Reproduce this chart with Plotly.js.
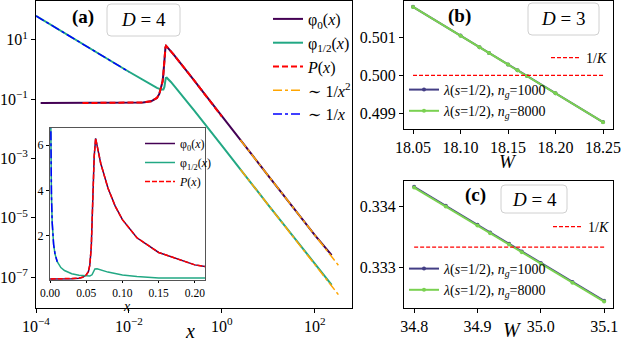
<!DOCTYPE html>
<html>
<head>
<meta charset="utf-8">
<script src="https://cdn.plot.ly/plotly-3.0.1.min.js"></script>
<style>
  html, body { margin: 0; padding: 0; background: #fff; }
  #chart { width: 623px; height: 341px; }
</style>
</head>
<body>
<div id="chart"></div>
<script>
const phi0_x = [1.26e-4, 1e-3, 0.01, 0.02, 0.03, 0.04, 0.045, 0.05, 0.053, 0.055, 0.057, 0.059, 0.061, 0.063,
                0.065, 0.07, 0.08, 0.09, 0.1, 0.12, 0.15, 0.2, 0.25, 0.336, 1, 10, 100, 230];
const phi0_y = [0.074, 0.074, 0.075, 0.078, 0.085, 0.11, 0.15, 0.25, 0.4, 0.7, 1.5, 3.5, 5.5, 6.3,
                6.0, 5.2, 4.1, 3.3, 2.7, 1.9, 1.25, 0.7, 0.44, 0.24, 0.026, 2.6e-4, 2.6e-6, 5.5e-7];

const phi12_x = [1e-4, 2e-4, 5e-4, 1e-3, 2e-3, 3e-3, 5e-3, 7e-3, 0.01, 0.015, 0.02, 0.03, 0.04, 0.05, 0.055,
                 0.058, 0.06, 0.062, 0.065, 0.07, 0.08, 0.1, 0.12, 0.15, 0.2, 0.25, 0.336, 1, 10, 100, 230];
const phi12_y = [64, 33, 14, 7.3, 3.8, 2.6, 1.6, 1.17, 0.84, 0.58, 0.45, 0.31, 0.24, 0.21, 0.21,
                 0.26, 0.4, 0.52, 0.53, 0.48, 0.38, 0.25, 0.18, 0.115, 0.066, 0.043, 0.024, 0.0027, 2.7e-5, 2.7e-7, 5.5e-8];

// P(x) sits on top of phi0 between these limits
const p_min = 1e-3, p_max = 2.5;

// ~1/x guide (left) and the two ~1/x^2 guides (right)
const inv_x = [1e-4, 2e-4, 5e-4, 1e-3, 2e-3, 3e-3, 5e-3, 7e-3, 0.01];
const inv_y = [64, 33, 14, 7.3, 3.8, 2.6, 1.6, 1.17, 0.84];
const inv2_x = [2.5, 340];
const inv2_hi = [0.0042, 2.25e-7];
const inv2_lo = [4.3e-4, 2.3e-8];

const log_tickvals = [1e-4, 1e-2, 1, 100];
const log_ticktext = ["10<sup>−4</sup>", "10<sup>−2</sup>", "10<sup>0</sup>", "10<sup>2</sup>"];
const logy_tickvals = [10, 0.1, 1e-3, 1e-5, 1e-7];
const logy_ticktext = ["10<sup>1</sup>", "10<sup>−1</sup>", "10<sup>−3</sup>", "10<sup>−5</sup>", "10<sup>−7</sup>"];

// ---- panel (b): D = 3 ----
const b_W = [18.05, 18.10, 18.12, 18.13, 18.15, 18.16, 18.17, 18.20, 18.25];
const b_lam1000 = [0.501816, 0.501053, 0.500748, 0.500595, 0.500290, 0.500137, 0.499985, 0.499527, 0.498763];
const b_lam8000 = [0.501812, 0.501049, 0.500744, 0.500591, 0.500286, 0.500133, 0.499981, 0.499523, 0.498759];
const b_invK = 0.5;

// ---- panel (c): D = 4 ----
const c_W = [34.80, 34.85, 34.90, 34.92, 34.95, 34.97, 35.00, 35.05, 35.10];
const c_lam1000 = [0.334330, 0.334016, 0.333702, 0.333576, 0.333388, 0.333262, 0.333073, 0.332759, 0.332446];
const c_lam8000 = [0.334318, 0.334004, 0.333690, 0.333564, 0.333376, 0.333250, 0.333061, 0.332747, 0.332434];
const c_invK = 0.333333;

const W = 623, H = 341;
const px = x => x / W;
const py = y => 1 - y / H;

const SERIF = "'Liberation Serif', 'Times New Roman', 'DejaVu Serif', serif";
const C_PHI0 = "#440154", C_PHI12 = "#22a884";
const C_N1000 = "#433e85", C_N8000 = "#7ad151";

let pick = (xs, ys, lo, hi) => {
    let ox = [], oy = [];
    for (let i = 0; i < xs.length; i++)
        if (xs[i] >= lo && xs[i] <= hi) { ox.push(xs[i]); oy.push(ys[i]); }
    return [ox, oy];
};
let [p_x, p_y] = pick(phi0_x, phi0_y, p_min, p_max);

let traces = [];

// main log-log panel
traces.push({ x: phi0_x, y: phi0_y, name: "φ<sub>0</sub>(<i>x</i>)", mode: "lines",
    line: { color: C_PHI0, width: 2 }, xaxis: "x", yaxis: "y", legend: "legend" });
traces.push({ x: phi12_x, y: phi12_y, name: "φ<sub>1/2</sub>(<i>x</i>)", mode: "lines",
    line: { color: C_PHI12, width: 2 }, xaxis: "x", yaxis: "y", legend: "legend" });
traces.push({ x: p_x, y: p_y, name: "<i>P</i>(<i>x</i>)", mode: "lines",
    line: { color: "#ff0000", width: 2, dash: "6px,3px" }, xaxis: "x", yaxis: "y", legend: "legend" });
traces.push({ x: inv2_x, y: inv2_hi, name: "∼ 1/<i>x</i><sup>2</sup>", mode: "lines",
    line: { color: "#ffa500", width: 1.5, dash: "dashdot" }, xaxis: "x", yaxis: "y", legend: "legend" });
traces.push({ x: inv2_x, y: inv2_lo, showlegend: false, mode: "lines",
    line: { color: "#ffa500", width: 1.5, dash: "dashdot" }, xaxis: "x", yaxis: "y" });
traces.push({ x: inv_x, y: inv_y, name: "∼ 1/<i>x</i>", mode: "lines",
    line: { color: "#0000ff", width: 1.5, dash: "dashdot" }, xaxis: "x", yaxis: "y", legend: "legend" });

// inset, linear axes
traces.push({ x: phi0_x, y: phi0_y, name: "φ<sub>0</sub>(<i>x</i>)", mode: "lines",
    line: { color: C_PHI0, width: 1.5 }, xaxis: "x4", yaxis: "y4", legend: "legend2" });
traces.push({ x: phi12_x, y: phi12_y, name: "φ<sub>1/2</sub>(<i>x</i>)", mode: "lines",
    line: { color: C_PHI12, width: 1.5 }, xaxis: "x4", yaxis: "y4", legend: "legend2" });
traces.push({ x: p_x, y: p_y, name: "<i>P</i>(<i>x</i>)", mode: "lines",
    line: { color: "#ff0000", width: 1.5, dash: "5px,2px" }, xaxis: "x4", yaxis: "y4", legend: "legend2" });
traces.push({ x: inv_x, y: inv_y, showlegend: false, mode: "lines",
    line: { color: "#0000ff", width: 1.5, dash: "dashdot" }, xaxis: "x4", yaxis: "y4" });

// panel (b)
let lam_name = ng => "<i>λ</i>(<i>s</i>=1/2), <i>n<sub>g</sub></i>=" + ng;
traces.push({ x: b_W, y: b_lam1000, name: lam_name(1000), mode: "lines+markers",
    line: { color: C_N1000, width: 2 }, marker: { size: 4, color: C_N1000 }, xaxis: "x2", yaxis: "y2", legend: "legend3" });
traces.push({ x: b_W, y: b_lam8000, name: lam_name(8000), mode: "lines+markers",
    line: { color: C_N8000, width: 2 }, marker: { size: 4, color: C_N8000 }, xaxis: "x2", yaxis: "y2", legend: "legend3" });
traces.push({ x: [b_W[0], b_W[b_W.length - 1]], y: [b_invK, b_invK], name: "1/<i>K</i>", mode: "lines",
    line: { color: "#ff0000", width: 1.2, dash: "4px,2px" }, xaxis: "x2", yaxis: "y2", legend: "legend4" });

// panel (c)
traces.push({ x: c_W, y: c_lam1000, name: lam_name(1000), mode: "lines+markers",
    line: { color: C_N1000, width: 2 }, marker: { size: 4, color: C_N1000 }, xaxis: "x3", yaxis: "y3", legend: "legend5" });
traces.push({ x: c_W, y: c_lam8000, name: lam_name(8000), mode: "lines+markers",
    line: { color: C_N8000, width: 2 }, marker: { size: 4, color: C_N8000 }, xaxis: "x3", yaxis: "y3", legend: "legend5" });
traces.push({ x: [c_W[0], c_W[c_W.length - 1]], y: [c_invK, c_invK], name: "1/<i>K</i>", mode: "lines",
    line: { color: "#ff0000", width: 1.2, dash: "4px,2px" }, xaxis: "x3", yaxis: "y3", legend: "legend6" });

let base_axis = (extra) => Object.assign({
    showline: true, mirror: true, linecolor: "#000", linewidth: 1,
    ticks: "outside", ticklen: 4, tickcolor: "#000", tickwidth: 1,
    showgrid: false, zeroline: false,
    tickfont: { family: SERIF, size: 16, color: "#000" },
}, extra);

let legend_box = (x, y, xanchor, yanchor, size) => ({
    x, y, xanchor, yanchor, xref: "paper", yref: "paper",
    bgcolor: "rgba(255,255,255,0)", borderwidth: 0,
    font: { family: SERIF, size, color: "#000" },
    itemwidth: 30, tracegroupgap: 0,
});

// rounded box behind the "D = ..." labels
let round_box = (x0, y0, x1, y1, r) => {
    let rx = r / W, ry = r / H;
    let X0 = px(x0), X1 = px(x1), Y0 = py(y0), Y1 = py(y1);
    return {
        type: "path", xref: "paper", yref: "paper",
        path: `M ${X0 + rx},${Y0} L ${X1 - rx},${Y0} Q ${X1},${Y0} ${X1},${Y0 - ry} ` +
              `L ${X1},${Y1 + ry} Q ${X1},${Y1} ${X1 - rx},${Y1} L ${X0 + rx},${Y1} ` +
              `Q ${X0},${Y1} ${X0},${Y1 + ry} L ${X0},${Y0 - ry} Q ${X0},${Y0} ${X0 + rx},${Y0} Z`,
        line: { color: "#d0d0d0", width: 1 }, fillcolor: "rgba(255,255,255,0.8)",
    };
};

let label = (x, y, text, size) => ({
    x: px(x), y: py(y), xref: "paper", yref: "paper", text, showarrow: false,
    xanchor: "center", yanchor: "middle", font: { family: SERIF, size, color: "#000" },
});

let layout = {
    width: W, height: H,
    margin: { l: 0, r: 0, t: 0, b: 0 },
    paper_bgcolor: "#fff", plot_bgcolor: "#fff",
    font: { family: SERIF, color: "#000" },
    showlegend: true,
    xaxis: base_axis({ type: "log", domain: [px(36), px(352)], range: [-4, 2.8], anchor: "y",
        tickvals: log_tickvals, ticktext: log_ticktext }),
    yaxis: base_axis({ type: "log", domain: [py(308), py(1)], range: [-8.04, 2.31], anchor: "x",
        tickvals: logy_tickvals, ticktext: logy_ticktext }),
    xaxis2: base_axis({ domain: [px(404), px(613)], range: [18.0405, 18.2605], anchor: "y2",
        dtick: 0.05, tick0: 18.05, tickformat: ".2f" }),
    yaxis2: base_axis({ domain: [py(129), py(1)], range: [0.498579, 0.50197], anchor: "x2",
        dtick: 0.001, tick0: 0.5, tickformat: ".3f" }),
    xaxis3: base_axis({ domain: [px(404), px(613)], range: [34.784, 35.114], anchor: "y3",
        dtick: 0.1, tick0: 34.8, tickformat: ".1f" }),
    yaxis3: base_axis({ domain: [py(308), py(181)], range: [0.332328, 0.334426], anchor: "x3",
        tickvals: [0.333, 0.334], tickformat: ".3f" }),
    xaxis4: base_axis({ domain: [px(50), px(205)], range: [0, 0.214], anchor: "y4",
        dtick: 0.05, tickformat: ".2f", ticklen: 2, linecolor: "#555",
        tickfont: { family: SERIF, size: 11.5, color: "#000" } }),
    yaxis4: base_axis({ domain: [py(280), py(128)], range: [0.03, 6.76], anchor: "x4",
        tickvals: [2, 4, 6], ticklen: 3, linecolor: "#555",
        tickfont: { family: SERIF, size: 12, color: "#000" } }),
    legend: legend_box(px(268), py(2), "left", "top", 16),
    legend2: legend_box(px(140), py(129), "left", "top", 12),
    legend3: legend_box(px(404), py(127), "left", "bottom", 14),
    legend4: legend_box(px(546), py(58), "left", "middle", 14),
    legend5: legend_box(px(404), py(306), "left", "bottom", 14),
    legend6: legend_box(px(548), py(227), "left", "middle", 14),
    shapes: [
        round_box(107, 4, 180, 36, 4),
        round_box(528, 3, 599, 35, 4),
        round_box(501, 185, 567, 213, 4),
    ],
    annotations: [
        label(83, 17, "<b>(a)</b>", 19),
        label(143, 20, "<i>D</i> = 4", 19),
        label(460, 16, "<b>(b)</b>", 19),
        label(563, 19, "<i>D</i> = 3", 19),
        label(475, 195, "<b>(c)</b>", 19),
        label(534, 199, "<i>D</i> = 4", 19),
        // axis titles
        label(190, 331, "<i>x</i>", 20),
        label(127, 306, "<i>x</i>", 14),
        label(508, 161, "<i>W</i>", 19),
        label(512, 330, "<i>W</i>", 20),
    ],
};

Plotly.newPlot("chart", traces, layout, { staticPlot: true, displayModeBar: false });
</script>
</body>
</html>
